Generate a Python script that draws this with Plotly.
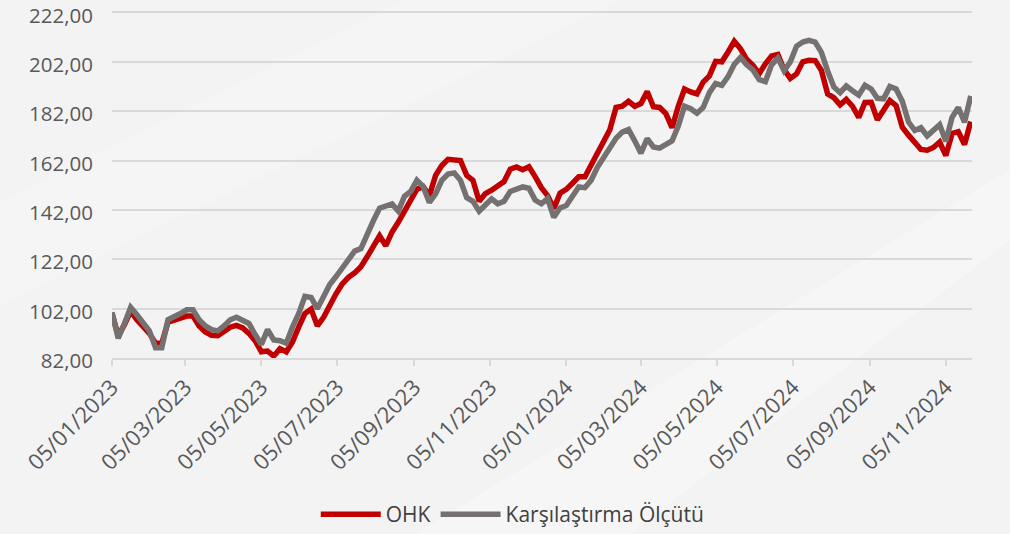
import pandas as pd
import plotly.graph_objects as go

# Dates: every 5 days from 05/01/2023
dates = pd.date_range("2023-01-05", periods=139, freq="5D")

ohk = [
    100, 91, 95.5, 101, 97.5, 95, 92, 88, 88, 96.5,
    97.5, 98.3, 99, 99, 95, 92.5, 91.2, 91, 92.5, 94.5,
    95.2, 94.2, 92, 89, 84.5, 84.8, 82.8, 85.8, 84.5, 88.5,
    94.5, 100, 101.8, 95, 98.5, 103.8, 108, 112, 114.7, 116.5,
    119, 123, 127.5, 131.5, 127.5, 133, 137, 141.5, 146, 150.4,
    151.4, 147.8, 156, 160, 162.5, 162.3, 162, 156, 154, 145.5,
    148.6, 150, 151.5, 153.5, 158.5, 159.4, 158.3, 159.5, 155.5, 151,
    147.8, 142.6, 148.8, 150.3, 152.8, 155.4, 155.4, 160.3, 164.9, 169,
    174.5, 183.5, 184, 186, 184, 185.1, 190, 183.8, 183.5, 181,
    175.3, 184, 191, 189.8, 189, 193.8, 196.3, 202.2, 202, 206,
    210.3, 207.3, 203, 200.6, 197.2, 201.2, 204.4, 205, 198.8, 195.3,
    197.1, 202, 202.6, 202.5, 198.5, 189, 187.5, 184.6, 186.8, 184,
    179.5, 185.5, 185.6, 178.5, 182.2, 186.3, 184.3, 175.5, 172.3, 169,
    166.5, 166.2, 167.3, 169.5, 164, 173, 173.7, 168.5, 177.8,
]

benchmark = [
    100.5, 90, 96, 102.5, 99.5, 96, 93, 86.2, 86.2, 97.5,
    98.5, 100, 101.5, 101.5, 97.5, 95, 93.5, 93, 95, 97.5,
    98.5, 97, 96, 91.5, 87.5, 93.5, 89.3, 89, 88, 94.5,
    100, 107, 106.5, 102, 107.5, 111.8, 115, 118.5, 122.2, 125.3,
    126.3, 132.5, 137.6, 142.7, 143.8, 144.4, 141.5, 147.5, 149.5, 154,
    151.5, 145, 148.5, 154, 156.5, 157, 154, 147, 145.5, 141.5,
    144, 146.5, 144.5, 145.5, 149.5, 150.7, 151.3, 150.8, 146, 144.5,
    146.6, 139, 142.8, 143.8, 147.5, 151.3, 151, 154, 159.3, 163,
    167.5, 171, 173.5, 174.6, 170, 165, 170.9, 167.5, 167, 168.3,
    170, 176, 184, 183, 181.2, 183.5, 189.5, 193.2, 192.5, 196,
    201, 203.8, 200.8, 198.7, 194.8, 194, 200.8, 203.5, 198.4, 202,
    208.3, 210, 210.7, 210, 205.8, 198.3, 191.8, 189.5, 192.2, 190.3,
    188.5, 192.5, 191, 187.2, 187, 192, 191, 186, 177.6, 174.2,
    175.3, 172, 174.6, 176.5, 169.8, 179.5, 183.5, 177.5, 188.2,
]

series_names = ["OHK", "Karşılaştırma Ölçütü"]
series_colors = ["#C00000", "#767171"]

y_ticks = [82, 102, 122, 142, 162, 182, 202, 222]
y_ticktext = [f"{v:.2f}".replace(".", ",") for v in y_ticks]
x_ticks = pd.date_range("2023-01-01", "2024-11-01", freq="2MS") + pd.Timedelta(days=4)
x_ticktext = [d.strftime("%d/%m/%Y") for d in x_ticks]

FONT = "Open Sans"

fig = go.Figure()
for name, vals, col in zip(series_names, [ohk, benchmark], series_colors):
    fig.add_trace(go.Scatter(
        x=dates, y=vals, mode="lines", name=name,
        line=dict(color=col, width=5.5, shape="linear"),
    ))

fig.update_layout(
    width=1010, height=534,
    margin=dict(l=112, r=38, t=9.5, b=176, autoexpand=False),
    paper_bgcolor="#f3f3f4",
    plot_bgcolor="rgba(0,0,0,0)",
    font=dict(family=FONT, color="#595959", size=21),
    showlegend=True,
    legend=dict(
        orientation="h", x=0.466, xanchor="center", y=-0.45, yanchor="middle",
        font=dict(family=FONT, size=21, color="#404040"),
        bgcolor="rgba(0,0,0,0)", itemwidth=60, tracegroupgap=0,
    ),
    shapes=[
        dict(type="path", xref="paper", yref="paper", layer="below",
             path="M 0.35,-0.51 L 1.05,0.55 L 1.05,0.35 L 0.6,-0.51 Z",
             fillcolor="rgba(255,255,255,0.3)", line=dict(width=0)),
        dict(type="path", xref="paper", yref="paper", layer="below",
             path="M -0.13,0.45 L 0.35,1.04 L 0.6,1.04 L -0.13,0.15 Z",
             fillcolor="rgba(255,255,255,0.2)", line=dict(width=0)),
    ],
)

fig.update_xaxes(
    type="date",
    range=["2023-01-05", "2024-11-26"],
    tickvals=x_ticks, ticktext=x_ticktext, tickangle=-45,
    showgrid=False, showline=True, linecolor="#d9d9d9", linewidth=1.5,
    ticks="outside", ticklen=6, tickcolor="#d9d9d9", tickwidth=1.5,
    tickfont=dict(family=FONT, size=22, color="#595959"),
    zeroline=False, ticklabeloverflow="allow", automargin=False,
)
fig.update_yaxes(
    range=[82, 223], tickvals=y_ticks, ticktext=y_ticktext,
    showgrid=True, gridcolor="#d9d9d9", gridwidth=1.5,
    showline=False, zeroline=False,
    ticks="outside", ticklen=14, tickcolor="rgba(0,0,0,0)",
    tickfont=dict(family=FONT, size=20.5, color="#595959"),
    ticklabeloverflow="allow", automargin=False, ticklabelshift=3,
)

fig.write_html(
    "out.html",
    config={"displayModeBar": False},
    post_script="document.body.style.margin='0';document.body.style.overflow='hidden';",
)
